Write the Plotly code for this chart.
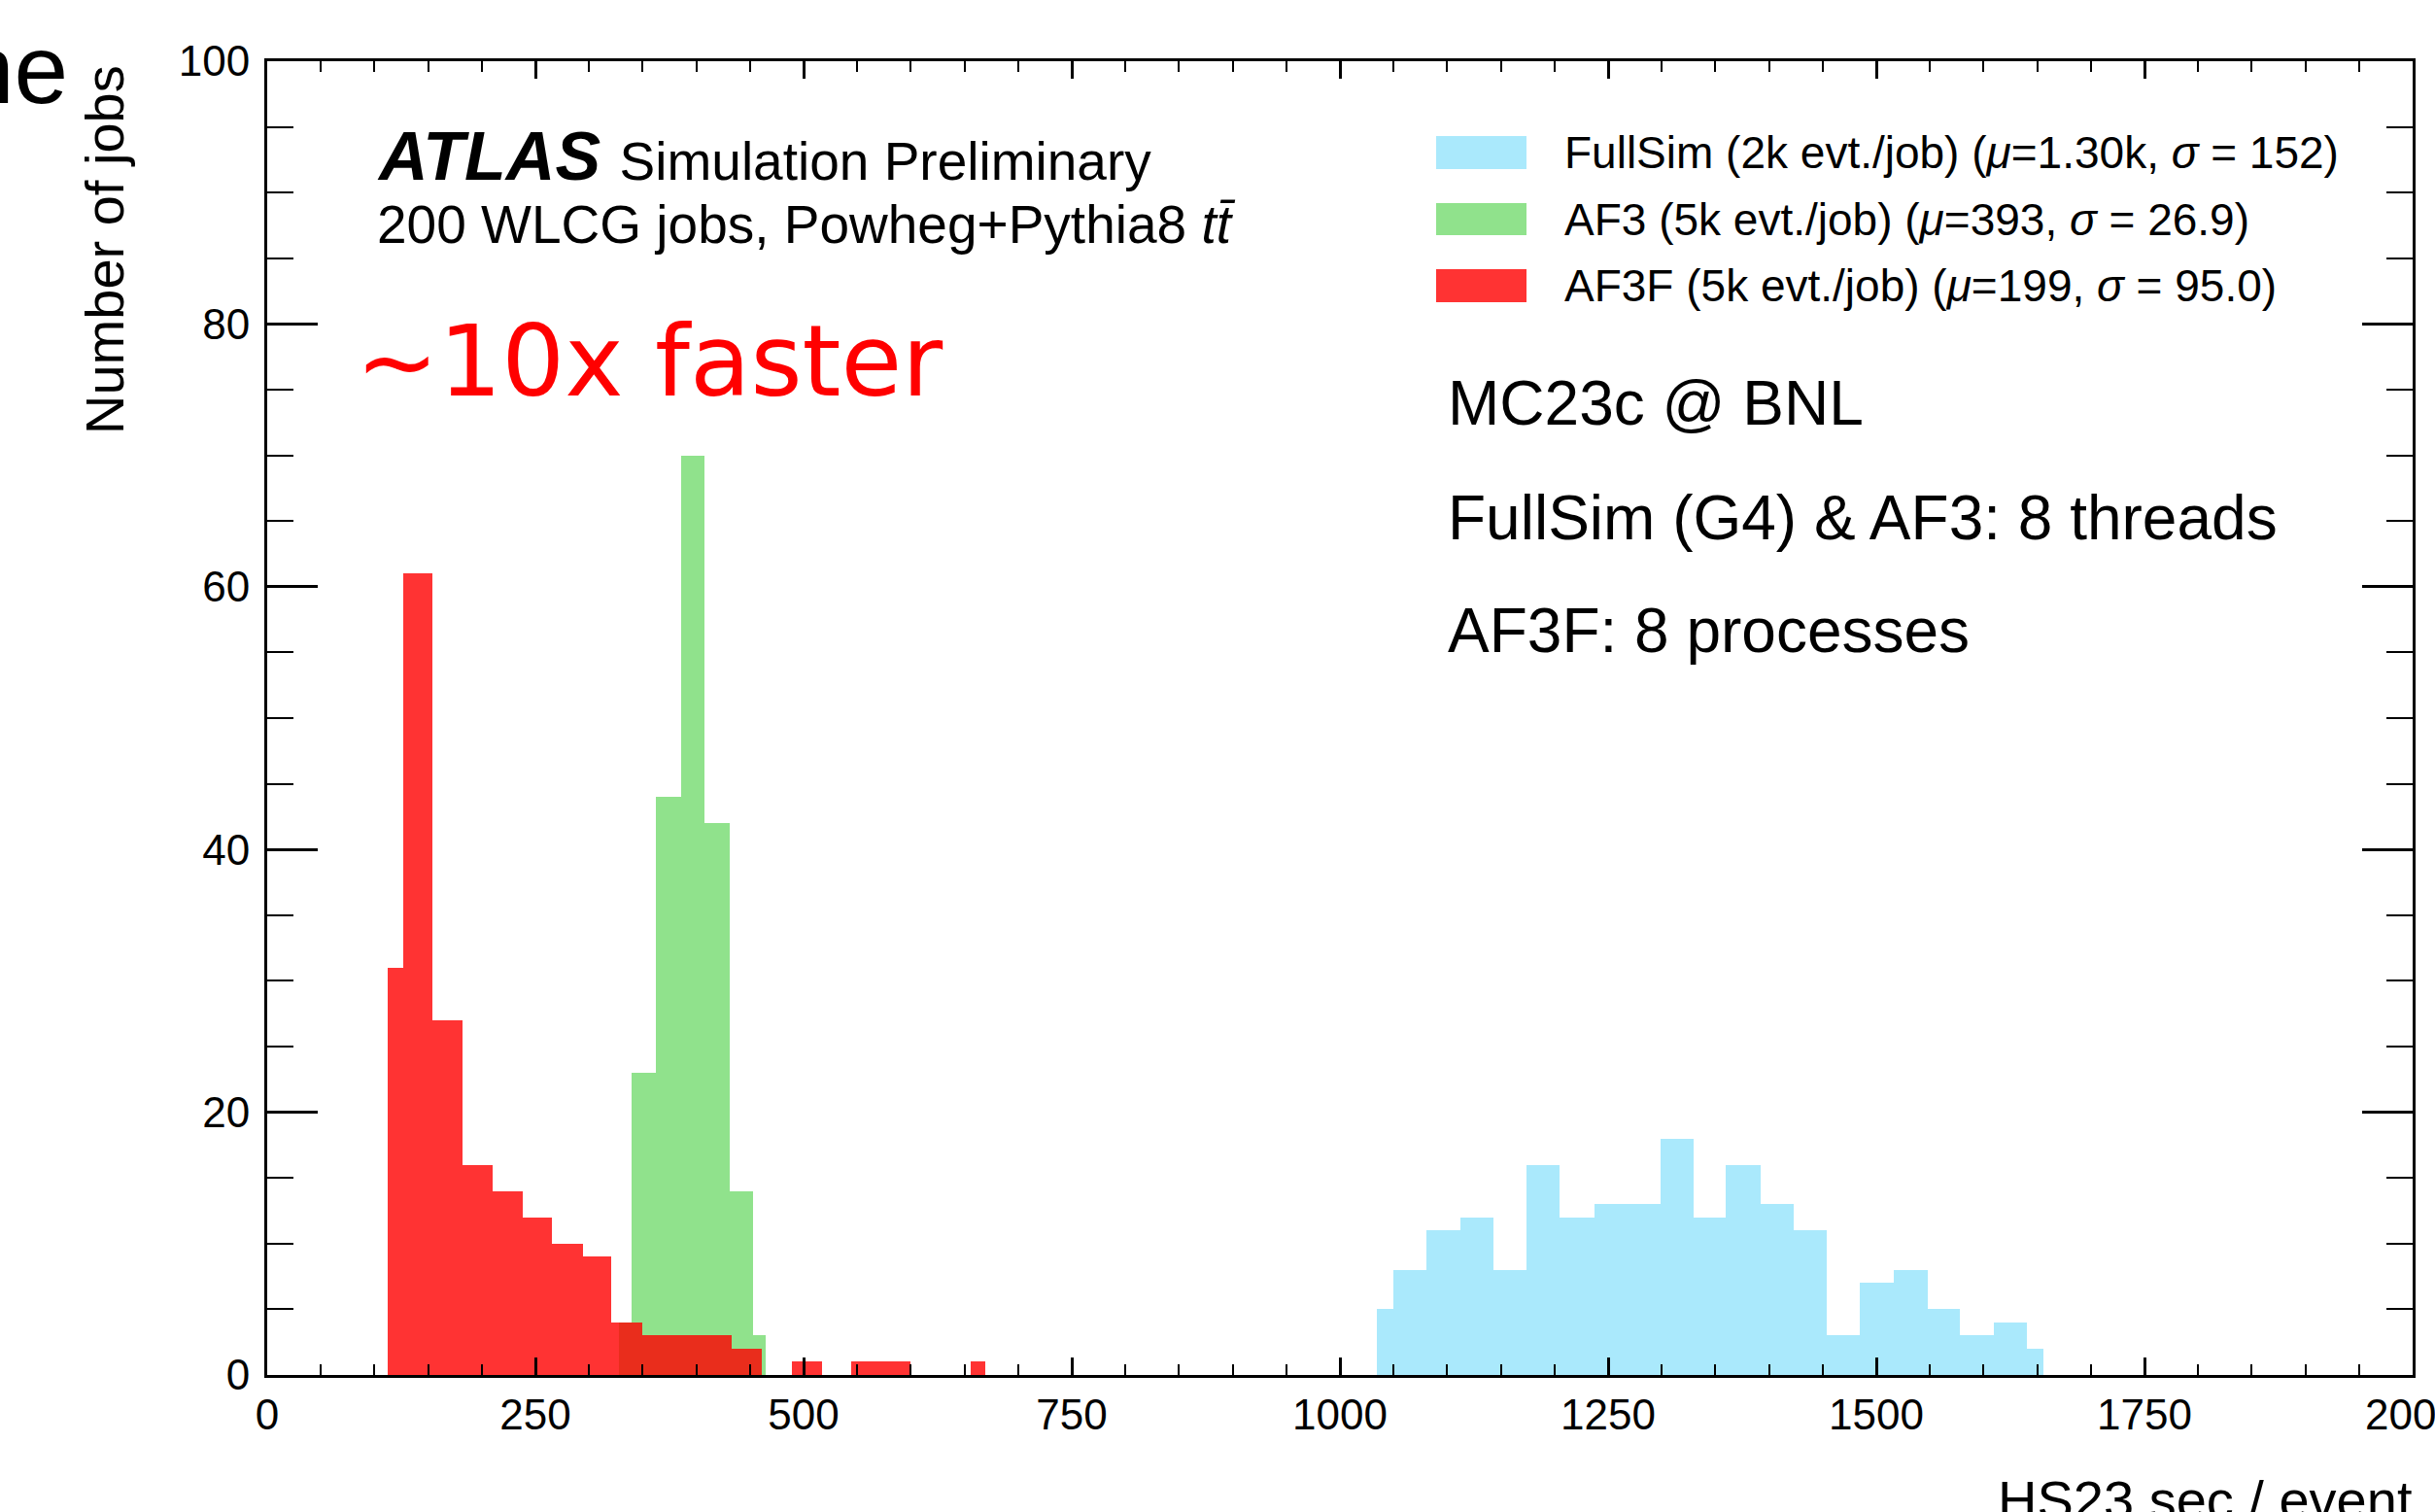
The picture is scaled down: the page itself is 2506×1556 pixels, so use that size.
import numpy as np
import plotly.graph_objects as go

# ---- histogram data (HS23 sec / event, number of jobs per bin) ----
fullsim_edges = [1034, 1050, 1081, 1112, 1143, 1174, 1205, 1237, 1268, 1299, 1330,
                 1360, 1392, 1423, 1454, 1485, 1516, 1548, 1578, 1610, 1640, 1656]
fullsim_counts = [5, 8, 11, 12, 8, 16, 12, 13, 13, 18, 12, 16, 13, 11, 3, 7, 8, 5, 3, 4, 2]

af3_edges = [328, 340, 362, 386, 408, 431, 453, 465]
af3_counts = [4, 23, 44, 70, 42, 14, 3]

af3f_edges = [112, 127, 154, 182, 210, 238, 265, 294, 321, 350, 377, 405, 433, 461,
              489, 517, 544, 572, 600, 628, 656, 669]
af3f_counts = [31, 61, 27, 16, 14, 12, 10, 9, 4, 3, 3, 3, 2, 0, 1, 0, 1, 1, 0, 0, 1]

legend_labels = [
    "FullSim (2k evt./job) (<i>μ</i>=1.30k, <i>σ</i> = 152)",
    "AF3 (5k evt./job) (<i>μ</i>=393, <i>σ</i> = 26.9)",
    "AF3F (5k evt./job) (<i>μ</i>=199, <i>σ</i> = 95.0)",
]
colors = ["#aae9fc", "#90e28c", "rgba(255,0,0,0.8)"]

x_ticks = [0, 250, 500, 750, 1000, 1250, 1500, 1750, 2000]
y_ticks = [0, 20, 40, 60, 80, 100]

# ---- canvas geometry (pixels) ----
W, H = 2506, 1556
L, R, T, B = 275, 2483, 63, 1415


def fx(p):
    return (p - L) / (R - L)


def fy(p):
    return (B - p) / (B - T)


FONT = "Liberation Sans, Arial, Helvetica, sans-serif"


def hist_bar(edges, counts, color):
    e = np.asarray(edges, dtype=float)
    return go.Bar(
        x=(e[:-1] + e[1:]) / 2,
        y=counts,
        width=np.diff(e),
        marker=dict(color=color, line=dict(width=0)),
        showlegend=False,
        hoverinfo="skip",
    )


fig = go.Figure()
fig.add_trace(hist_bar(fullsim_edges, fullsim_counts, colors[0]))
fig.add_trace(hist_bar(af3_edges, af3_counts, colors[1]))
fig.add_trace(hist_bar(af3f_edges, af3f_counts, colors[2]))

axis_common = dict(
    showline=True, linewidth=3, linecolor="black", mirror="ticks",
    ticks="inside", tickcolor="black", showgrid=False, zeroline=False,
    ticklabeloverflow="allow", automargin=False,
    tickfont=dict(family=FONT, size=44, color="black"),
)

fig.update_layout(
    width=W, height=H,
    margin=dict(l=L, r=W - R, t=T, b=H - B, pad=0, autoexpand=False),
    paper_bgcolor="white", plot_bgcolor="white",
    barmode="overlay", bargap=0,
    showlegend=False,
    xaxis=dict(
        range=[0, 2000], tickmode="array", tickvals=x_ticks,
        ticktext=[str(v) for v in x_ticks],
        ticklen=18, tickwidth=2.5,
        minor=dict(tickmode="linear", tick0=0, dtick=50, ticks="inside",
                   ticklen=11, tickwidth=2, tickcolor="black"),
        **axis_common,
    ),
    yaxis=dict(
        range=[0, 100], tickmode="array", tickvals=y_ticks,
        ticktext=[str(v) for v in y_ticks],
        ticklen=52, tickwidth=2.5, ticklabelstandoff=6,
        minor=dict(tickmode="linear", tick0=0, dtick=5, ticks="inside",
                   ticklen=27, tickwidth=2, tickcolor="black"),
        **axis_common,
    ),
)

ann = []


def text(x, y, s, size, xanchor="left", color="black", family=FONT, angle=0, yanchor="middle"):
    ann.append(dict(
        x=fx(x), y=fy(y), xref="paper", yref="paper", text=s, showarrow=False,
        xanchor=xanchor, yanchor=yanchor, textangle=angle,
        font=dict(family=family, size=size, color=color),
    ))


# fragment of slide title at the top-left corner
text(72, 71, "ne", 100, xanchor="right", family="Liberation Sans Narrow, Liberation Sans, Arial")

# axis titles
text(108, 65, "Number of jobs", 56, xanchor="center", angle=-90, yanchor="top")
text(2485, 1543, "HS23 sec / event", 56, xanchor="right")

# ATLAS label
text(386, 161, "<b><i>ATLAS</i></b> <span style='font-size:55px'>Simulation Preliminary</span>", 70)
text(386, 231, "200 WLCG jobs, Powheg+Pythia8 <i>tt\u0304</i>", 55)

# handwritten-style note
text(668, 372, "~10x faster", 102, xanchor="center", color="#ff0000", family="DejaVu Sans")

# legend
shapes = []
box_y = [(140, 174), (209, 242), (277, 311)]
text_y = [157, 226, 294]
for (y0, y1), ty, lab, col in zip(box_y, text_y, legend_labels, colors):
    shapes.append(dict(type="rect", xref="paper", yref="paper",
                       x0=fx(1478), x1=fx(1571), y0=fy(y1), y1=fy(y0),
                       fillcolor=col, line=dict(width=0)))
    text(1608, ty, lab, 46)

# run conditions
text(1488, 415, "MC23c @ BNL", 64)
text(1488, 533, "FullSim (G4) &amp; AF3: 8 threads", 64)
text(1488, 649, "AF3F: 8 processes", 64)

fig.update_layout(annotations=ann, shapes=shapes)
fig.write_html("out.html")
